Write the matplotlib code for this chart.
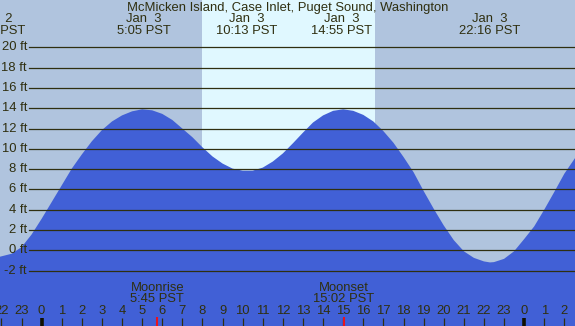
# -*- coding: utf-8 -*-
"""Tide chart for McMicken Island, Case Inlet (Jan 3)."""

import matplotlib
matplotlib.use("Agg")
import matplotlib.pyplot as plt
from matplotlib.transforms import blended_transform_factory

# ---------------------------------------------------------------------------
# Data (hours relative to midnight Jan 3, PST)
# ---------------------------------------------------------------------------
TITLE = "McMicken Island, Case Inlet, Puget Sound, Washington"

tide_hours = [-2.1, -2.0, -1.5, -1.0, -0.5, 0.0, 0.5, 1.0, 1.5, 2.0, 2.5,
              3.0, 3.5, 4.0, 4.5, 5.0, 5.5, 6.0, 6.5, 7.0, 7.5, 8.0, 8.5,
              9.0, 9.5, 10.0, 10.5, 11.0, 11.5, 12.0, 12.5, 13.0, 13.5,
              14.0, 14.5, 15.0, 15.5, 16.0, 16.5, 17.0, 17.5, 18.0, 18.5,
              19.0, 19.5, 20.0, 20.5, 21.0, 21.5, 22.0, 22.3, 22.5, 23.0,
              23.5, 24.0, 24.5, 25.0, 25.5, 26.0, 26.5, 26.6]
tide_feet = [-0.65, -0.6, -0.35, 0.3, 1.55, 3.1, 4.75, 6.4, 8.05, 9.45,
             10.75, 11.85, 12.7, 13.3, 13.7, 13.9, 13.8, 13.45, 12.85, 12.0,
             11.15, 10.15, 9.25, 8.55, 8.05, 7.85, 7.85, 8.15, 8.75, 9.55,
             10.55, 11.6, 12.6, 13.3, 13.75, 13.9, 13.75, 13.35, 12.7, 11.75,
             10.6, 9.2, 7.7, 5.85, 4.1, 2.45, 1.0, -0.1, -0.75, -1.1, -1.2,
             -1.17, -0.85, -0.1, 1.1, 2.35, 4.0, 5.75, 7.55, 9.0, 9.3]

# high / low tide labels (first one belongs to Jan 2 and is cut off)
event_hours = [-2.32, 5.083, 10.217, 14.917, 22.267]
event_dates = ["Jan  2", "Jan  3", "Jan  3", "Jan  3", "Jan  3"]
event_times = ["21:41 PST", "5:05 PST", "10:13 PST", "14:55 PST", "22:16 PST"]

moon_hours = [5.75, 15.033]
moon_names = ["Moonrise", "Moonset"]
moon_times = ["5:45 PST", "15:02 PST"]

sunrise, sunset = 7.97, 16.58

hour_ticks = list(range(-2, 27))
hour_labels = [str(h % 24) for h in hour_ticks]
midnights = [0, 24]

ft_levels = list(range(-2, 21, 2))
ft_labels = [f"{v} ft" for v in ft_levels]

# ---------------------------------------------------------------------------
# Style
# ---------------------------------------------------------------------------
W, H = 575, 326
NIGHT = "#b0c4de"
DAY = "#e0f8ff"
WATER = "#4160d6"
INK = "#2f2f10"
RED = "#e8141e"
FONT = "Liberation Sans"
FS = 9.4

plt.rcParams["font.family"] = FONT


def yfrac(px):
    return 1 - px / H


fig = plt.figure(figsize=(W / 100, H / 100), dpi=100, facecolor=NIGHT)
ax = fig.add_axes([0, 0, 1, 1])
ax.set_axis_off()
ax.set_xlim(-2.07, 26.53)
ax.set_ylim(-7.47, 24.68)

xd_ya = blended_transform_factory(ax.transData, ax.transAxes)
xa_yd = blended_transform_factory(ax.transAxes, ax.transData)

ax.axvspan(-3, 30, color=NIGHT, lw=0, zorder=0)
ax.axvspan(sunrise, sunset, color=DAY, lw=0, zorder=1)
ax.fill_between(tide_hours, tide_feet, -10, color=WATER, lw=0, zorder=2)

# level lines + labels
for lvl, lab in zip(ft_levels, ft_labels):
    ax.axhline(lvl, xmin=29 / W, xmax=1, color=INK, lw=0.9, zorder=3)
    ax.text(27 / W, lvl, lab, transform=xa_yd, ha="right", va="center",
            fontsize=FS, color=INK, zorder=4)

ax.text(0.5, yfrac(7.5), TITLE, transform=ax.transAxes, ha="center",
        va="center", fontsize=FS, color=INK)

for h, d, t in zip(event_hours, event_dates, event_times):
    ax.text(h, yfrac(18.5), d, transform=xd_ya, ha="center", va="center",
            fontsize=FS, color=INK)
    ax.text(h, yfrac(31.5), t, transform=xd_ya, ha="center", va="center",
            fontsize=FS, color=INK)

for h, n, t in zip(moon_hours, moon_names, moon_times):
    ax.text(h, yfrac(288), n, transform=xd_ya, ha="center", va="center",
            fontsize=FS, color=INK, zorder=4)
    ax.text(h, yfrac(299.5), t, transform=xd_ya, ha="center", va="center",
            fontsize=FS, color=INK, zorder=4)
    ax.vlines(h, 0, 9 / H, transform=xd_ya, color=RED, lw=1.5, zorder=5)

# hour axis along the bottom
for h, lab in zip(hour_ticks, hour_labels):
    ax.text(h, yfrac(311.5), lab, transform=xd_ya, ha="center", va="center",
            fontsize=FS, color=INK, zorder=4)
    lw = 2.6 if h in midnights else 0.9
    ax.vlines(h, 0, 8 / H, transform=xd_ya, color=INK if h not in midnights
              else "#111100", lw=lw, zorder=4)

fig.savefig("out.png", dpi=100, facecolor=NIGHT)
